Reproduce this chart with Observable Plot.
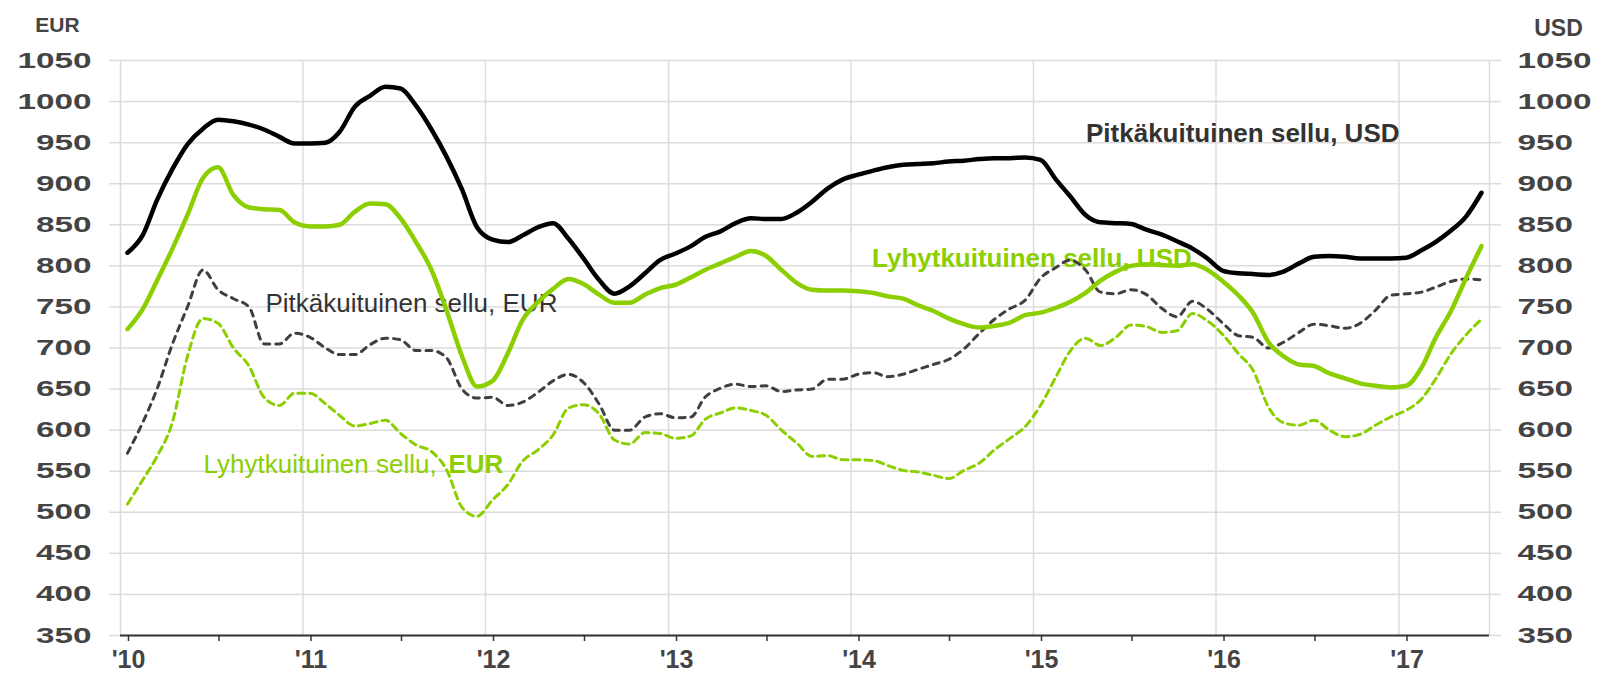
<!DOCTYPE html>
<html>
<head>
<meta charset="utf-8">
<script src="https://cdn.jsdelivr.net/npm/d3@7"></script>
<script src="https://cdn.jsdelivr.net/npm/@observablehq/plot@0.6"></script>
<style>
  html, body { margin: 0; padding: 0; background: #ffffff; }
  #chart svg { display: block; }
</style>
</head>
<body>
<div id="chart"></div>
<script>
// ---- Data (monthly, Jan 2010 – Jun 2017) ----
const firstYear = 2010;

// Pitkäkuituinen sellu, USD (solid black)
const longFiberUSD = [
  816, 838, 880, 918, 948, 967, 978, 976, 972, 966,
  957, 949, 949, 950, 963, 994, 1007, 1018, 1016, 995,
  966, 933, 893, 847, 832, 829, 837, 847, 852, 833,
  809, 783, 766, 775, 791, 807, 815, 824, 835, 842,
  852, 858, 857, 857, 865, 878, 894, 905, 911, 916,
  920, 923, 924, 925, 927, 928, 930, 931, 931, 932,
  929, 905, 885, 862, 853, 852, 851, 844, 838, 830,
  821, 809, 794, 791, 790, 789, 793, 803, 811, 812,
  811, 809, 809, 809, 810, 819, 829, 843, 860, 889
];

// Lyhytkuituinen sellu, USD (solid green)
const shortFiberUSD = [
  723, 748, 782, 821, 862, 907, 920, 886, 871, 869,
  868, 853, 848, 848, 850, 866, 876, 875, 858, 829,
  795, 746, 690, 653, 660, 694, 734, 756, 772, 784,
  778, 765, 755, 755, 765, 773, 777, 786, 795, 803,
  811, 818, 812, 795, 779, 771, 770, 770, 769, 767,
  763, 760, 752, 745, 736, 729, 725, 727, 731, 740,
  743, 749, 756, 767, 782, 793, 800, 802, 801, 800,
  802, 795, 781, 764, 743, 707, 690, 680, 678, 669,
  663, 657, 654, 652, 654, 676, 712, 745, 785, 824
];

// Pitkäkuituinen sellu, EUR (dashed dark grey)
const longFiberEUR = [
  572, 610, 650, 705, 750, 795, 771, 760, 750, 705,
  705, 718, 713, 700, 692, 692, 704, 712, 710, 697,
  697, 688, 650, 639, 640, 630, 634, 646, 660, 668,
  658, 632, 600, 600, 616, 620, 615, 616, 640, 651,
  656, 653, 654, 647, 649, 650, 662, 662, 668, 670,
  665, 668, 674, 680, 686, 699, 718, 735, 748, 758,
  785, 798, 807, 795, 768, 766, 771, 765, 748, 738,
  757, 747, 730, 715, 713, 700, 707, 719, 729, 727,
  724, 730, 746, 764, 766, 768, 774, 781, 784, 783
];

// Lyhytkuituinen sellu, EUR (dashed green)
const shortFiberEUR = [
  510, 540, 568, 610, 690, 736, 730, 700, 678, 640,
  630, 645, 645, 632, 618, 605, 608, 612, 596, 582,
  574, 552, 506, 495, 515, 534, 562, 576, 594, 627,
  631, 620, 588, 583, 597, 596, 590, 593, 613, 621,
  627, 624, 618, 600, 584, 568, 569, 564, 564, 563,
  557, 551, 549, 545, 541, 551, 560, 576, 590, 604,
  630, 665, 696, 712, 703, 713, 728, 726, 719, 721,
  742, 733, 716, 693, 673, 628, 609, 606, 612, 600,
  592, 595, 606, 616, 624, 638, 662, 693, 716, 735
];

// Axes
const yTicks = [350, 400, 450, 500, 550, 600, 650, 700, 750, 800, 850, 900, 950, 1000, 1050];
const xDomain = ["2010-01-01", "2017-07-01"];
const yearGrid = ["2010-01-01", "2011-01-01", "2012-01-01", "2013-01-01", "2014-01-01",
                  "2015-01-01", "2016-01-01", "2017-01-01", "2017-07-01"];
const halfYearTicks = ["2010-01-01", "2010-07-01", "2011-01-01", "2011-07-01", "2012-01-01",
                       "2012-07-01", "2013-01-01", "2013-07-01", "2014-01-01", "2014-07-01",
                       "2015-01-01", "2015-07-01", "2016-01-01", "2016-07-01", "2017-01-01"];

// Series labels (anchor date, value at text baseline)
const labelsBoldDark = [{text: "Pitkäkuituinen sellu, USD", date: "2015-04-16", value: 951}];
const labelsRegularDark = [{text: "Pitkäkuituinen sellu, EUR", date: "2010-10-18", value: 744}];
const labelsRegularGreen = [{text: "Lyhytkuituinen sellu,", date: "2010-06-16", value: 548}];
const labelsBoldGreen = [
  {text: "EUR", date: "2011-10-19", value: 548},
  {text: "Lyhytkuituinen sellu, USD", date: "2014-02-12", value: 799}
];

// ---- Build table ----
const toDate = s => new Date(s + "T00:00:00Z");
const monthDate = i => new Date(Date.UTC(firstYear, i, 15));
const series = (arr, name) => arr.map((v, i) => ({date: monthDate(i), value: v, series: name}));

const GREEN = "#8ccf00";
const DARK = "#3f3f3f";
const GRID = "#dcdcdc";
const FONT = "Liberation Sans, Arial, Helvetica, sans-serif";

const chart = Plot.plot({
  width: 1601,
  height: 673,
  marginLeft: 120,
  marginRight: 112,
  marginTop: 60,
  marginBottom: 38,
  style: {fontFamily: FONT, background: "#ffffff", overflow: "visible"},
  x: {type: "utc", domain: xDomain.map(toDate)},
  y: {domain: [350, 1050]},
  marks: [
    Plot.gridY({ticks: yTicks, stroke: GRID, strokeOpacity: 1, strokeWidth: 1.5}),
    Plot.gridX({ticks: yearGrid.map(toDate), stroke: GRID, strokeOpacity: 1, strokeWidth: 1.5}),
    Plot.axisY({anchor: "left", ticks: yTicks, tickFormat: d => String(d), tickSize: 11, tickPadding: 18,
      stroke: GRID, strokeOpacity: 1, strokeWidth: 1.5, fill: "#444", fontSize: 22, fontWeight: "bold", label: null}),
    Plot.axisY({anchor: "right", ticks: yTicks, tickFormat: d => String(d), tickSize: 11, tickPadding: 17,
      stroke: GRID, strokeOpacity: 1, strokeWidth: 1.5, fill: "#444", fontSize: 22, fontWeight: "bold", label: null}),
    Plot.axisX({ticks: halfYearTicks.map(toDate), tickSize: 6, tickPadding: 9, stroke: "#333",
      strokeWidth: 1.5, fill: "#444", fontSize: 25, fontWeight: "bold", dx: 8, label: null,
      tickFormat: d => d.getUTCMonth() === 0 ? "'" + String(d.getUTCFullYear()).slice(2) : ""}),
    Plot.ruleY([350], {stroke: "#333", strokeWidth: 2}),

    // Header unit labels
    Plot.text(["EUR"], {text: d => d, frameAnchor: "top-left", textAnchor: "middle", dx: -63, dy: -29,
      lineAnchor: "bottom", fontSize: 21, fontWeight: "bold", fill: "#444"}),
    Plot.text(["USD"], {text: d => d, frameAnchor: "top-right", textAnchor: "middle", dx: 69, dy: -25,
      lineAnchor: "bottom", fontSize: 23, fontWeight: "bold", fill: "#444"}),

    // Series labels
    Plot.text(labelsBoldDark, {x: d => toDate(d.date), y: "value", text: "text", textAnchor: "start",
      lineAnchor: "bottom", fontSize: 26, fontWeight: "bold", fill: "#333"}),
    Plot.text(labelsRegularDark, {x: d => toDate(d.date), y: "value", text: "text", textAnchor: "start",
      lineAnchor: "bottom", fontSize: 26, fill: "#333"}),
    Plot.text(labelsRegularGreen, {x: d => toDate(d.date), y: "value", text: "text", textAnchor: "start",
      lineAnchor: "bottom", fontSize: 26, fill: GREEN}),
    Plot.text(labelsBoldGreen, {x: d => toDate(d.date), y: "value", text: "text", textAnchor: "start",
      lineAnchor: "bottom", fontSize: 26, fontWeight: "bold", fill: GREEN}),

    // Lines
    Plot.lineY(series(shortFiberEUR, "Lyhytkuituinen sellu, EUR"), {x: "date", y: "value",
      stroke: GREEN, strokeWidth: 3, strokeDasharray: "7,5", curve: "monotone-x"}),
    Plot.lineY(series(longFiberEUR, "Pitkäkuituinen sellu, EUR"), {x: "date", y: "value",
      stroke: DARK, strokeWidth: 3, strokeDasharray: "6,6", curve: "monotone-x"}),
    Plot.lineY(series(shortFiberUSD, "Lyhytkuituinen sellu, USD"), {x: "date", y: "value",
      stroke: GREEN, strokeWidth: 4.5, curve: "monotone-x"}),
    Plot.lineY(series(longFiberUSD, "Pitkäkuituinen sellu, USD"), {x: "date", y: "value",
      stroke: "#000000", strokeWidth: 4.5, curve: "monotone-x"})
  ]
});

// Widen the y tick labels like the original
d3.select(chart).selectAll('g[aria-label="y-axis tick label"] text').each(function () {
  const t = this.textContent.trim();
  this.setAttribute("textLength", (t.length * 18.5).toFixed(1));
  this.setAttribute("lengthAdjust", "spacingAndGlyphs");
});

document.getElementById("chart").appendChild(chart);
</script>
</body>
</html>
